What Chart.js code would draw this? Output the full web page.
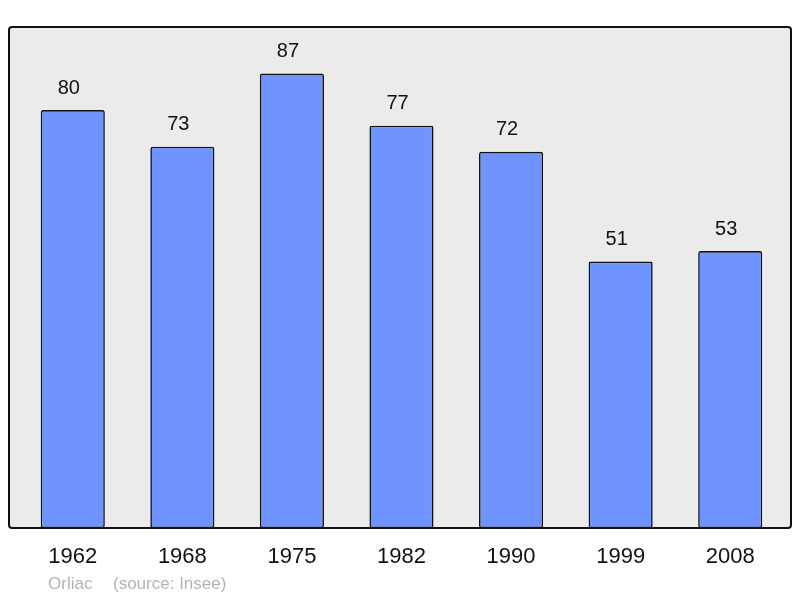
<!DOCTYPE html>
<html>
<head>
<meta charset="utf-8">
<script src="https://cdn.jsdelivr.net/npm/chart.js@4/dist/chart.umd.min.js"></script>
<style>
  body { margin: 0; background: #fff; }
  #wrap { width: 800px; height: 598px; }
</style>
</head>
<body>
<div id="wrap"><canvas id="popChart" width="800" height="598"></canvas></div>
<script>
const years = ['1962', '1968', '1975', '1982', '1990', '1999', '2008'];
const population = [80, 73, 87, 77, 72, 51, 53];
const townName = 'Orliac';
const sourceText = '(source: Insee)';

const fontFamily = '"Liberation Sans", Arial, sans-serif';

// grey panel with black frame behind the bars
const panelPlugin = {
    id: 'panel',
    beforeDatasetsDraw(chart) {
        const ctx = chart.ctx;
        const area = chart.chartArea;
        const x0 = 9, x1 = 791, y0 = area.top, y1 = area.bottom;
        ctx.save();
        ctx.beginPath();
        ctx.roundRect(x0, y0, x1 - x0, y1 - y0, 3);
        ctx.fillStyle = '#ebebeb';
        ctx.fill();
        ctx.restore();
    },
    afterDatasetsDraw(chart) {
        const ctx = chart.ctx;
        const area = chart.chartArea;
        const x0 = 9, x1 = 791, y0 = area.top, y1 = area.bottom;
        ctx.save();
        ctx.beginPath();
        ctx.roundRect(x0, y0, x1 - x0, y1 - y0, 3);
        ctx.lineWidth = 2;
        ctx.strokeStyle = '#111';
        ctx.stroke();
        ctx.restore();
    },
    afterDraw(chart) {
        const ctx = chart.ctx;
        ctx.save();
        ctx.font = '17px ' + fontFamily;
        ctx.fillStyle = '#b3b3b3';
        ctx.textBaseline = 'middle';
        ctx.fillText(townName, 48, 584);
        ctx.fillText(sourceText, 113, 584);
        ctx.restore();
    }
};

// numbers above each bar (sit a little left of centre, as in the original)
const valueLabels = {
    id: 'valueLabels',
    afterDatasetsDraw(chart) {
        const ctx = chart.ctx;
        const meta = chart.getDatasetMeta(0);
        ctx.save();
        ctx.font = '20px ' + fontFamily;
        ctx.fillStyle = '#111';
        ctx.textAlign = 'center';
        ctx.textBaseline = 'middle';
        meta.data.forEach((bar, i) => {
            ctx.fillText(population[i], bar.x - 4, bar.y - 22);
        });
        ctx.restore();
    }
};

new Chart(document.getElementById('popChart'), {
    type: 'bar',
    data: {
        labels: years,
        datasets: [{
            data: population,
            backgroundColor: '#7094ff',
            borderColor: '#111',
            borderWidth: 1.6,
            borderSkipped: false,
            borderRadius: 2,
            categoryPercentage: 1,
            barPercentage: 0.585
        }]
    },
    options: {
        responsive: false,
        animation: false,
        layout: {
            padding: { left: 18, right: 15, top: 27, bottom: 19.6 }
        },
        scales: {
            x: {
                grid: { display: false },
                border: { display: false },
                ticks: {
                    padding: 8,
                    color: '#111',
                    font: { size: 22, family: fontFamily }
                }
            },
            y: {
                display: false,
                min: 0,
                max: 95.9
            }
        },
        plugins: {
            legend: { display: false },
            tooltip: { enabled: false }
        }
    },
    plugins: [panelPlugin, valueLabels]
});
</script>
</body>
</html>
